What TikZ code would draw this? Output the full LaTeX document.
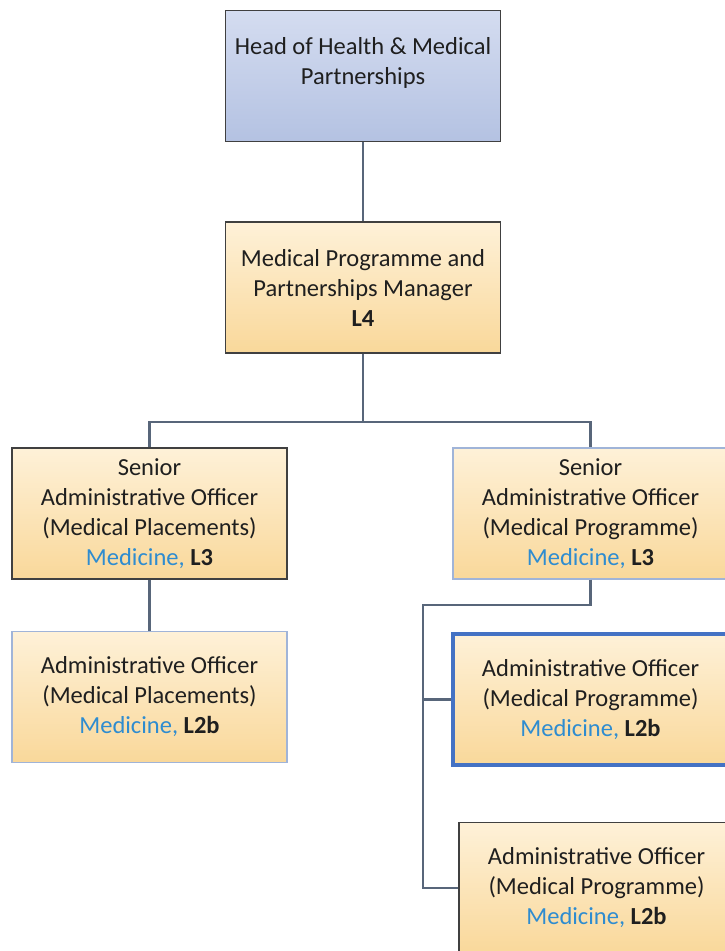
\documentclass[tikz,border=0pt]{standalone}
\usepackage{fontspec}
\setmainfont{Carlito}
\usepackage{xcolor}
\usetikzlibrary{positioning}
\definecolor{medblue}{RGB}{46,140,208}
\definecolor{linkgray}{RGB}{88,102,122}
\definecolor{paleedge}{RGB}{160,180,216}
\definecolor{boldedge}{RGB}{68,114,196}
\definecolor{peachtop}{RGB}{254,241,216}
\definecolor{peachbot}{RGB}{249,216,154}
\definecolor{slatetop}{RGB}{212,220,240}
\definecolor{slatebot}{RGB}{180,194,226}
\newcommand{\grade}[1]{{\color{medblue}Medicine,} \textbf{#1}}

\begin{document}
\begin{tikzpicture}[x=1pt, y=-1pt, every node/.style={font=\fontsize{24.5}{30}\selectfont, text=black!88}, post/.style={draw=black!75, line width=1.4pt, minimum width=275pt, minimum height=131pt, align=center, top color=peachtop, bottom color=peachbot, inner sep=0pt}, headpost/.style={post, top color=slatetop, bottom color=slatebot}, pale/.style={draw=paleedge}, picked/.style={draw=boldedge, line width=4.5pt}, link/.style={draw=linkgray, line width=2.2pt}]
\useasboundingbox (0,0) rectangle (724,951);
\node[headpost] (head) at (363,76) {Head of Health \& Medical\\Partnerships\\\rule[-1pt]{0pt}{1pt}};
\node[post] (mgr) at (363,287.5) {Medical Programme and\\Partnerships Manager\\\textbf{L4}};
\node[post] (sao1) at (149.5,513.5) {Senior\\Administrative Officer\\(Medical Placements)\\\grade{L3}};
\node[post, pale] (sao2) at (590.5,513.5) {Senior\\Administrative Officer\\(Medical Programme)\\\grade{L3}};
\node[post, pale] (ao1) at (149.5,697) {Administrative Officer\\(Medical Placements)\\\grade{L2b}};
\node[post, picked] (ao2) at (590.5,699.5) {Administrative Officer\\(Medical Programme)\\\grade{L2b}};
\node[post] (ao3) at (596.5,888) {Administrative Officer\\(Medical Programme)\\\grade{L2b}};
\coordinate (fork) at (363,422);
\coordinate (trunk) at (423,605);
% reporting lines
\draw[link] (head) -- (mgr);
\draw[link] (mgr) -- (fork) -| (sao1);
\draw[link] (fork) -| (sao2);
\draw[link] (sao1) -- (ao1);
\draw[link] (sao2.south) |- (trunk) |- (ao3.west);
\draw[link] (trunk |- ao2.west) -- (ao2.west);
\end{tikzpicture}
\end{document}
